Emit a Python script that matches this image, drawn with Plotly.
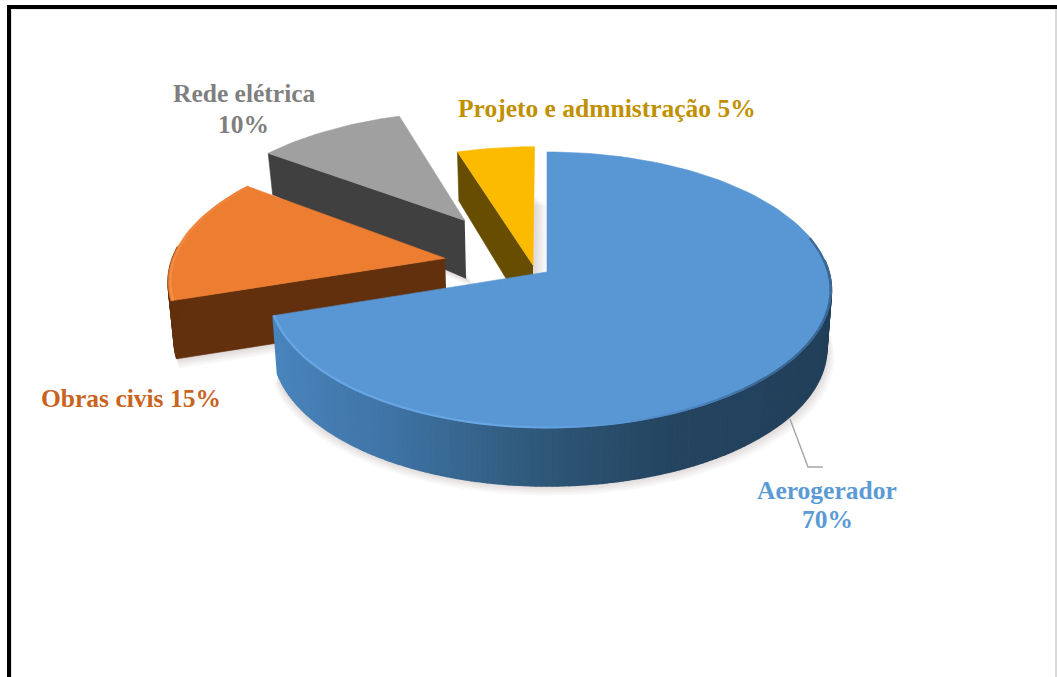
import math
import plotly.graph_objects as go

# Cost shares of a wind farm
categories = ["Aerogerador", "Obras civis", "Rede elétrica", "Projeto e admnistração"]
shares = [70, 15, 10, 5]

# Slice styling, in category order
top_colors = ["#5896d4", "#ed7d31", "#a0a0a0", "#fdbb00"]
wall_colors = ["#2e5676", "#63300e", "#404040", "#664d00"]
label_colors = ["#5b9bd5", "#c8641f", "#7f7f7f", "#bf9000"]
# Explosion of every slice on the pie plane (across, toward the viewer), in radii
explode = [(0.0, 0.0), (-0.366, -0.102), (-0.307, -0.40), (-0.05, -0.05)]
# Horizontal squeeze of the left half of a slice
left_squeeze = [0.98, 0.98, 1.0, 1.0]
# Wall height at the far edge of each slice, in pixels
far_height = [58, 58, 41, 49]
# Sideways drift of each slice's shadow per layer, in pixels
shadow_drift = [0.5, 0.5, 1.0, 2.0]
draw_order = [2, 3, 1, 0]

# Perspective camera for the pie plane
CX, CY, SX, SY, PERSP = 547, 272, 282, 135.65, 0.1304
WALL = 58


def project(u, v):
    w = 1 - PERSP * v
    return CX + SX * u / w, CY + SY * v / w


def ground(angle, i, r=1.0):
    a = math.radians(angle)
    across = r * math.sin(a)
    if across < 0:
        across *= left_squeeze[i]
    return across + explode[i][0], -r * math.cos(a) + explode[i][1]


def lower(u, v, far):
    # Point on the underside: slightly pulled in, height shrinking with distance
    x, y = project(u, v)
    h = WALL if v >= -0.42 else far + (WALL - far) * max(0.0, (v + 1) / 0.58)
    return x + (CX - x) * 0.016, y + h


def hexmix(stops, t):
    t = max(stops[0][0], min(stops[-1][0], t))
    for (t0, c0), (t1, c1) in zip(stops, stops[1:]):
        if t <= t1:
            f = (t - t0) / (t1 - t0) if t1 > t0 else 0
            rgb = [
                round(int(c0[i:i + 2], 16) * (1 - f) + int(c1[i:i + 2], 16) * f)
                for i in (1, 3, 5)
            ]
            return "#%02x%02x%02x" % tuple(rgb)
    return stops[-1][1]


fig = go.Figure()


def poly(xs, ys, color, edge=0.6):
    fig.add_trace(go.Scatter(
        x=xs, y=ys, mode="lines", fill="toself", fillcolor=color,
        line=dict(color=color, width=edge), hoverinfo="skip", showlegend=False,
    ))


def stroke(xs, ys, color, width):
    fig.add_trace(go.Scatter(
        x=xs, y=ys, mode="lines", line=dict(color=color, width=width),
        hoverinfo="skip", showlegend=False,
    ))


# Angular extent of each slice, clockwise from twelve o'clock
spans = []
start = 0.0
for s in shares:
    spans.append((start, start + 3.6 * s))
    start += 3.6 * s

BLUE_WALL = [(-1.0, "#4b88c1"), (-0.5, "#3f74a6"), (0.0, "#2e5676"), (0.4, "#244460"), (1.0, "#223f59")]
BLUE_RIM = [(135, "#3a6793"), (150, "#4a83bd"), (165, "#5896d4"), (185, "#68a6e4"), (252, "#69a6e2")]
ORANGE_RIM = [(252, "#f39148"), (306, "#ee8138")]

# Soft contact shadows under all slices
for i, off in enumerate(explode):
    a0, a1 = spans[i]
    steps = max(8, int((a1 - a0) / 3))
    pts = [ground(a0 + (a1 - a0) * k / steps, i) for k in range(steps + 1)] + [off]
    base = [lower(u, v, far_height[i]) for u, v in pts]
    mid = sum(p[0] for p in base) / len(base)
    for layer in range(1, 7):
        grow = 1 + layer * 0.0035
        poly(
            [mid + (p[0] - mid) * grow + layer * shadow_drift[i] for p in base],
            [p[1] + layer * 1.6 for p in base],
            "rgba(60,50,40,0.028)", edge=0,
        )

# Slices, far ones first
for i in draw_order:
    off = explode[i]
    a0, a1 = spans[i]
    far = far_height[i]
    au, av = off

    # Straight cut face on the clockwise-start side, when it turns toward the viewer
    if math.sin(math.radians(a0)) < -1e-9:
        ou, ov = ground(a0, i)
        t1, t2 = project(au, av), project(ou, ov)
        b1, b2 = lower(au, av, far), lower(ou, ov, far)
        poly([t1[0], t2[0], b2[0], b1[0]], [t1[1], t2[1], b2[1], b1[1]], wall_colors[i])

    # Curved outer wall, front-facing part only
    segs = max(4, int(a1 - a0))
    for k in range(segs):
        g0 = a0 + (a1 - a0) * k / segs
        g1 = a0 + (a1 - a0) * (k + 1) / segs
        if -math.cos(math.radians((g0 + g1) / 2)) < -0.08:
            continue
        u0, v0 = ground(g0, i)
        u1, v1 = ground(g1, i)
        p0, p1 = project(u0, v0), project(u1, v1)
        q0, q1 = lower(u0, v0, far), lower(u1, v1, far)
        shade = hexmix(BLUE_WALL, (u0 + u1) / 2) if i == 0 else wall_colors[i]
        poly([p0[0], p1[0], q1[0], q0[0]], [p0[1], p1[1], q1[1], q0[1]], shade, edge=1.6)

    # Top face
    steps = 120 if i == 0 else 30
    rim = [project(*ground(a0 + (a1 - a0) * k / steps, i)) for k in range(steps + 1)]
    apex = project(au, av)
    poly([apex[0]] + [p[0] for p in rim] + [apex[0]],
         [apex[1]] + [p[1] for p in rim] + [apex[1]], top_colors[i])

    # Bevel along the front edge of the rim
    if i == 0:
        for k in range(75, 252, 3):
            pts = [project(*ground(g, i, 0.997)) for g in (k, k + 3)]
            stroke([p[0] for p in pts], [p[1] for p in pts], hexmix(BLUE_RIM, k), 2.2)
    elif i == 1:
        for k in range(252, 306, 3):
            pts = [project(*ground(g, i, 0.992)) for g in (k, k + 3)]
            stroke([p[0] for p in pts], [p[1] for p in pts], hexmix(ORANGE_RIM, k), 2.2)

# Labels; two-line ones are set as separate rows for a tighter leading
LABEL_FONT = "Liberation Serif"
labels = [
    (categories[0], 827, 490, 0),
    (f"{shares[0]}%", 827, 519, 0),
    (f"{categories[1]} {shares[1]}%", 131, 398, 1),
    (categories[2], 244, 93, 2),
    (f"{shares[2]}%", 243, 124, 2),
    (f"{categories[3]} {shares[3]}%", 607, 108, 3),
]
for text, x, y, series in labels:
    fig.add_annotation(
        x=x, y=y, text=f"<b>{text}</b>", showarrow=False, align="center",
        font=dict(family=LABEL_FONT, size=25.5, color=label_colors[series]),
    )

shapes = [
    # Leader line of the largest slice
    dict(type="path", path="M 790 419 L 808 467 L 823 467",
         line=dict(color="#a6a6a6", width=1.4)),
    # Page frame
    dict(type="rect", x0=7, x1=1057, y0=5, y1=9, fillcolor="#000000", line_width=0),
    dict(type="rect", x0=7, x1=11, y0=5, y1=677, fillcolor="#000000", line_width=0),
    dict(type="rect", x0=11, x1=1055, y0=9, y1=10, fillcolor="#ececec", line_width=0),
    dict(type="rect", x0=11, x1=12, y0=9, y1=677, fillcolor="#e6e6e6", line_width=0),
    dict(type="rect", x0=1055, x1=1057, y0=9, y1=677, fillcolor="#d9d9d9", line_width=0),
]

fig.update_layout(
    width=1057, height=677, margin=dict(l=0, r=0, t=0, b=0),
    paper_bgcolor="#ffffff", plot_bgcolor="#ffffff", showlegend=False,
    shapes=shapes,
    xaxis=dict(range=[0, 1057], visible=False, fixedrange=True),
    yaxis=dict(range=[677, 0], visible=False, fixedrange=True),
)

fig.write_html("out.html")
